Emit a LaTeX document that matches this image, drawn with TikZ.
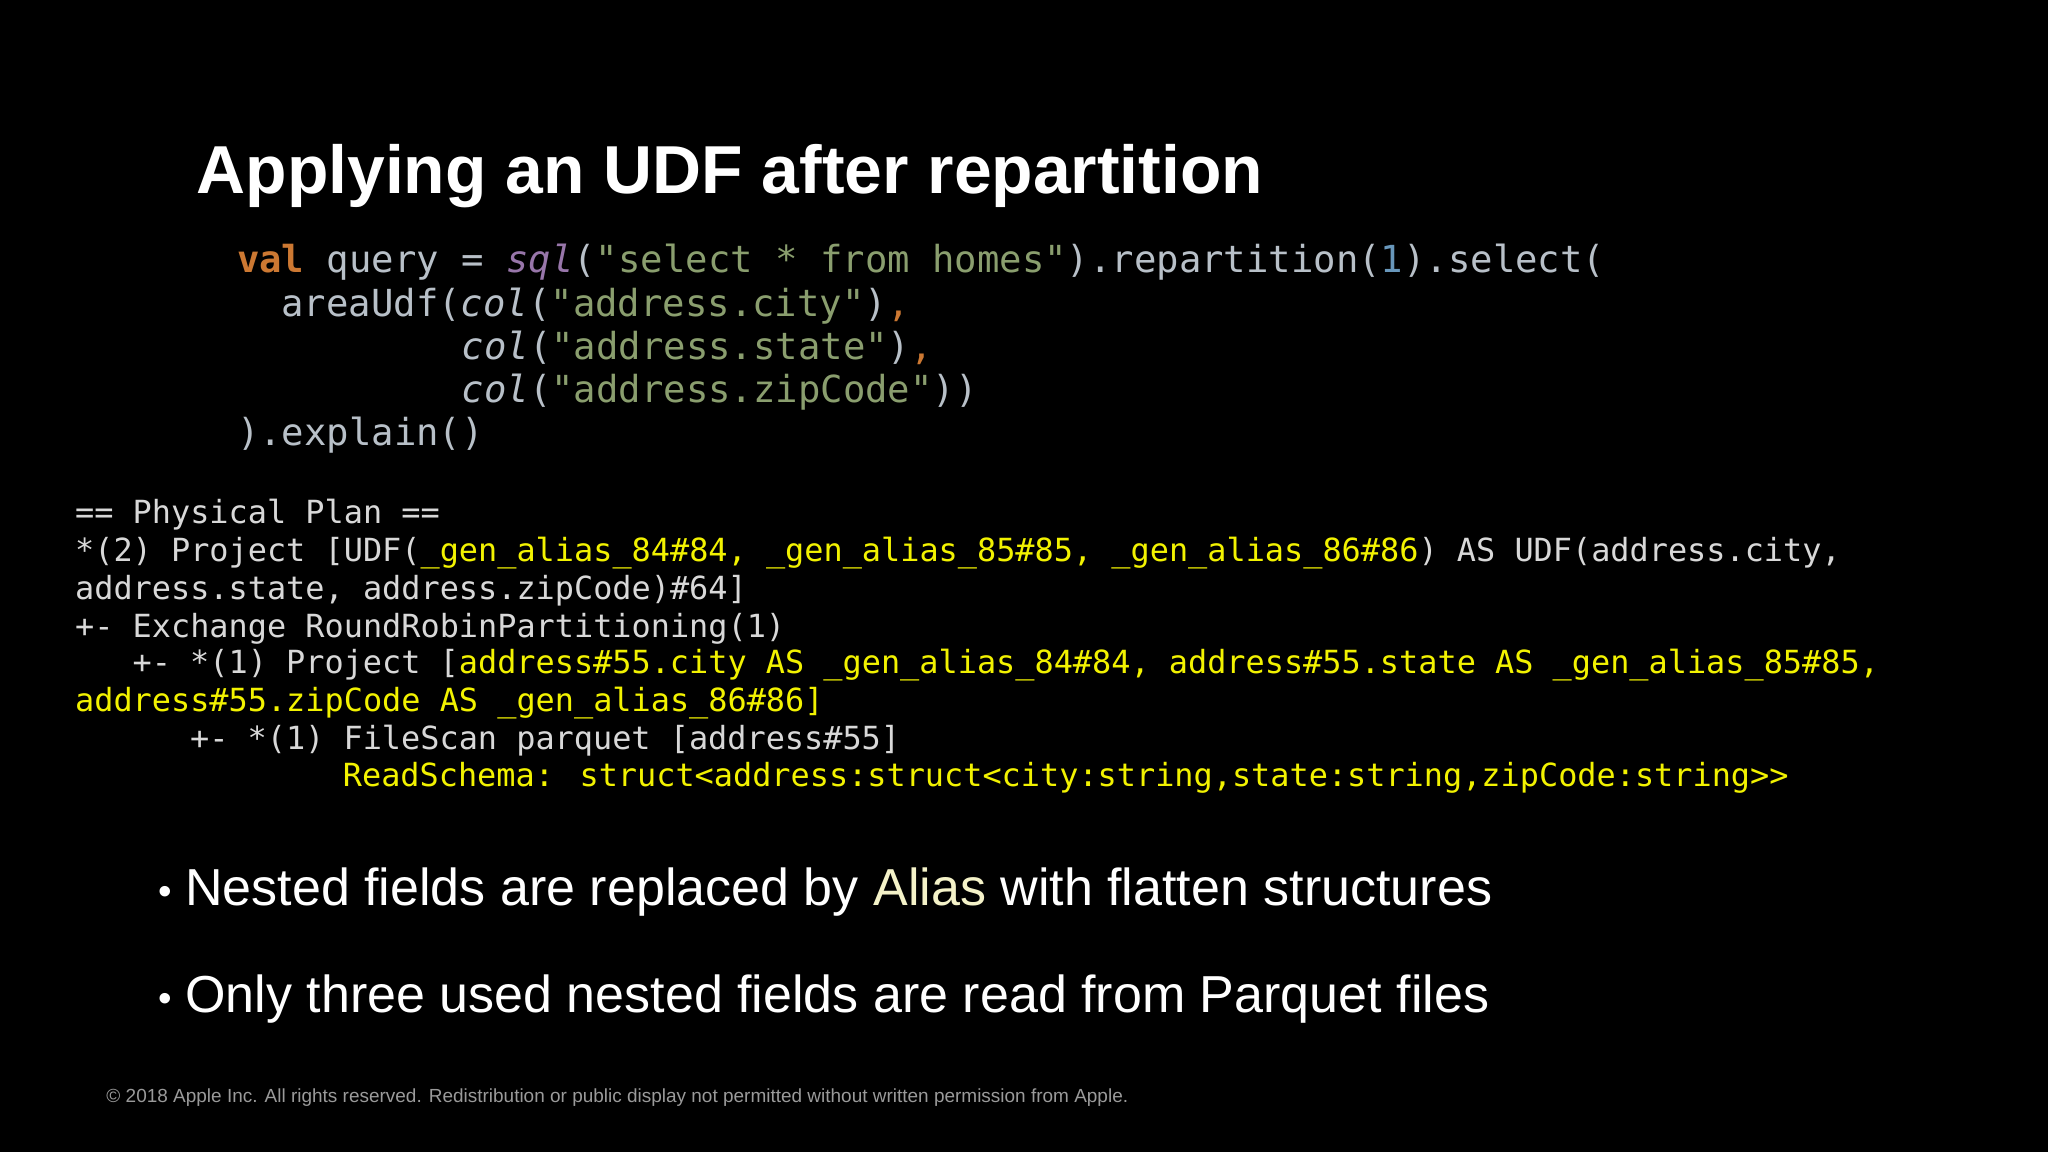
\documentclass[tikz,border=0pt]{standalone}
\usepackage{fontspec}
\setmainfont{Liberation Sans}
\newfontfamily\codefont{DejaVu Sans Mono}
\definecolor{kw}{HTML}{CC7832}
\definecolor{fn}{HTML}{9876AA}
\definecolor{str}{HTML}{8A9E6E}
\definecolor{num}{HTML}{6897BB}
\definecolor{txt}{HTML}{B8C0C8}
\definecolor{plan}{HTML}{D8D8D8}
\definecolor{yel}{HTML}{F2F200}
\definecolor{alias}{HTML}{F4F2C8}
\definecolor{foot}{HTML}{9A9A9A}
\tikzset{
  ln/.style={anchor=base west,inner sep=0pt},
  code/.style={ln,text=txt,font=\codefont\fontsize{10.6}{12}\selectfont},
  planl/.style={ln,text=plan,font=\codefont\fontsize{9.07}{10}\selectfont},
  bullet/.style={ln,text=white,font=\fontsize{14.8}{18}\selectfont},
}
\begin{document}
\begin{tikzpicture}[x=0.013061cm,y=-0.013061cm]
\fill[black] (0,0) rectangle (1568,882);
\useasboundingbox (0,0) rectangle (1568,882);
\node[ln,text=white,font=\bfseries\fontsize{19.3}{24}\selectfont] (title) at (150,148) {Applying an UDF after repartition};
\node[code] (c1) at (181,209) {\textcolor{kw}{\bfseries val} query = \textcolor{fn}{\itshape sql}(\textcolor{str}{"select * from homes"}).repartition(\textcolor{num}{1}).select(};
\node[code] (c2) at (215,242) {areaUdf(\itshape col\upshape(\textcolor{str}{"address.city"})\textcolor{kw}{,}};
\node[code] (c3) at (353,275) {\itshape col\upshape(\textcolor{str}{"address.state"})\textcolor{kw}{,}};
\node[code] (c4) at (353,308) {\itshape col\upshape(\textcolor{str}{"address.zipCode"}))};
\node[code] (c5) at (181,341) {).explain()};
\node[planl] (p1) at (57,401) {== Physical Plan ==};
\node[planl] (p2) at (57,430) {*(2) Project [UDF(\textcolor{yel}{\_gen\_alias\_84\#84, \_gen\_alias\_85\#85, \_gen\_alias\_86\#86}) AS UDF(address.city,};
\node[planl] (p3) at (57,459) {address.state, address.zipCode)\#64]};
\node[planl] (p4) at (57,488) {+- Exchange RoundRobinPartitioning(1)};
\node[planl] (p5) at (101,516) {+- *(1) Project [\textcolor{yel}{address\#55.city AS \_gen\_alias\_84\#84, address\#55.state AS \_gen\_alias\_85\#85,}};
\node[planl,text=yel] (p6) at (57,545) {address\#55.zipCode AS \_gen\_alias\_86\#86]};
\node[planl] (p7) at (145,574) {+- *(1) FileScan parquet [address\#55]};
\node[planl,text=yel] (p8) at (262,602) {ReadSchema: struct<address:struct<city:string,state:string,zipCode:string>>};
\node[bullet] (b1) at (121,693) {\raisebox{0.02em}{\fontsize{11}{11}\selectfont\textbullet}\hspace{0.25em}Nested fields are replaced by \textcolor{alias}{Alias} with flatten structures};
\node[bullet] (b2) at (121,775) {\raisebox{0.02em}{\fontsize{11}{11}\selectfont\textbullet}\hspace{0.25em}Only three used nested fields are read from Parquet files};
\node[ln,text=foot,font=\fontsize{5.4}{6}\selectfont] (ft) at (81,844) {\textcopyright{} 2018 Apple Inc. All rights reserved. Redistribution or public display not permitted without written permission from Apple.};
\end{tikzpicture}
\end{document}
